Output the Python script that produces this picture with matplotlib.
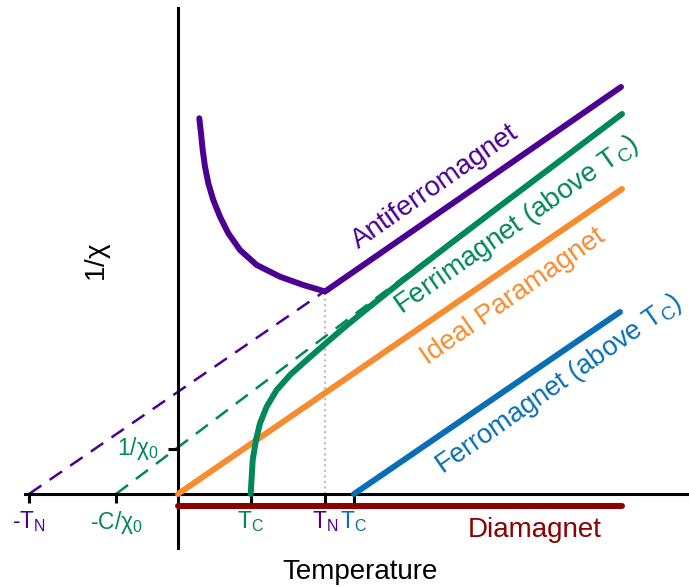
import matplotlib.pyplot as plt

plt.rcParams['font.family'] = 'Liberation Sans'
plt.rcParams['mathtext.fontset'] = 'custom'
plt.rcParams['mathtext.rm'] = 'Liberation Sans'
plt.rcParams['mathtext.it'] = 'Liberation Sans:italic'

# colours of the different kinds of magnet
purple = '#4B0092'
green = '#00875A'
orange = '#F68B2F'
blue = '#0A6EB4'
darkred = '#8B0000'

# special temperatures on the T axis (arbitrary units)
tick_T = [-149, -62, 73, 147, 176]
tick_labels = [r'-T$_\mathrm{N}$', r'-C/$\mathrm{\chi_0}$', r'T$_\mathrm{C}$', r'T$_\mathrm{N}$', r'T$_\mathrm{C}$']
tick_colors = [purple, green, green, purple, blue]
inv_chi0 = 45

# straight lines (end points, T and 1/chi)
para_T = [0, 444]
para_y = [0, 305]
ferro_T = [176, 442]
ferro_y = [0, 182]
dia_T = [0, 444]
dia_y = [-12, -12]
afm_dash_T = [-149, 147]
afm_dash_y = [0, 203]
ferri_dash_T = [-62, 250]
ferri_dash_y = [0, 235]

# antiferromagnet: below T_N curve then Curie-Weiss line
afm_T = [21.3, 23, 24.7, 27, 30.3, 35.3, 42, 50.3, 62, 78.7, 102, 125.3, 147, 443]
afm_y = [375.7, 360.7, 344, 327.3, 310.7, 294, 277.3, 260.7, 244, 229, 217.3, 209, 202.5, 407]

# ferrimagnet above T_C (bends onto the dashed asymptote)
ferri_T = [72.7, 74.7, 78, 82, 88.7, 98.7, 112, 128.7, 147, 165, 182, 222, 272, 322, 444]
ferri_y = [0, 34, 54, 70.7, 87.3, 104, 119, 134, 150, 165.5, 179.5, 211.5, 250, 288, 380]

fig = plt.figure(figsize=(6.89, 5.87), dpi=100)
ax = fig.add_axes([0, 0, 1, 1])
ax.set_xlim(-178, 511)
ax.set_ylim(-93, 494)
ax.axis('off')

lw = 4.3
# dashed extrapolations and guide line
ax.plot(afm_dash_T, afm_dash_y, color=purple, lw=1.8, linestyle=(0, (6, 4)), zorder=2)
ax.plot(ferri_dash_T, ferri_dash_y, color=green, lw=1.8, linestyle=(0, (6, 4)), zorder=2)
ax.plot([tick_T[3], tick_T[3]], [0, afm_y[12]], color='#BBBBBB', lw=1.5, linestyle=':', zorder=1)

# axes
ax.plot([-153, 511], [0, 0], color='black', lw=2.2, zorder=3)
ax.plot([0, 0], [-54, 486], color='black', lw=2.2, zorder=3)
ax.vlines(tick_T, -9, 0, color='black', lw=2.2, zorder=3)
ax.hlines(inv_chi0, -10, 0, color='black', lw=2.2, zorder=3)

# curves
ax.plot(para_T, para_y, color=orange, lw=lw, solid_capstyle='round', zorder=4)
ax.plot(ferri_T, ferri_y, color=green, lw=lw, solid_capstyle='round',
        solid_joinstyle='round', zorder=5)
ax.plot(afm_T, afm_y, color=purple, lw=lw, solid_capstyle='round',
        solid_joinstyle='round', zorder=5)
ax.plot(ferro_T, ferro_y, color=blue, lw=lw, solid_capstyle='round', zorder=5)
ax.plot(dia_T, dia_y, color=darkred, lw=lw, solid_capstyle='round', zorder=4)

# tick labels
for t, lab, c in zip(tick_T, tick_labels, tick_colors):
    ax.text(t, -15, lab, color=c, fontsize=16.5, ha='center', va='top')
ax.text(-19, inv_chi0, r'1/$\mathrm{\chi_0}$', color=green, fontsize=16.5, ha='right', va='center')

# curve labels
ax.text(257, 307, 'Antiferromagnet', color=purple, fontsize=20, rotation=35,
        ha='center', va='center', rotation_mode='anchor')
ax.text(339, 269, r'Ferrimagnet (above T$_\mathrm{C}$)', color=green, fontsize=20, rotation=35,
        ha='center', va='center', rotation_mode='anchor')
ax.text(335, 197, 'Ideal Paramagnet', color=orange, fontsize=20, rotation=35,
        ha='center', va='center', rotation_mode='anchor')
ax.text(381, 110, r'Ferromagnet (above T$_\mathrm{C}$)', color=blue, fontsize=19.5, rotation=35,
        ha='center', va='center', rotation_mode='anchor')
ax.text(357, -36, 'Diamagnet', color=darkred, fontsize=20, ha='center', va='center')

# axis titles
ax.text(182, -78, 'Temperature', fontsize=20, ha='center', va='center')
ax.text(-80, 232, r'1/$\mathrm{\chi}$', fontsize=20, rotation=90, ha='center', va='center')

fig.savefig('out.png', dpi=100)
